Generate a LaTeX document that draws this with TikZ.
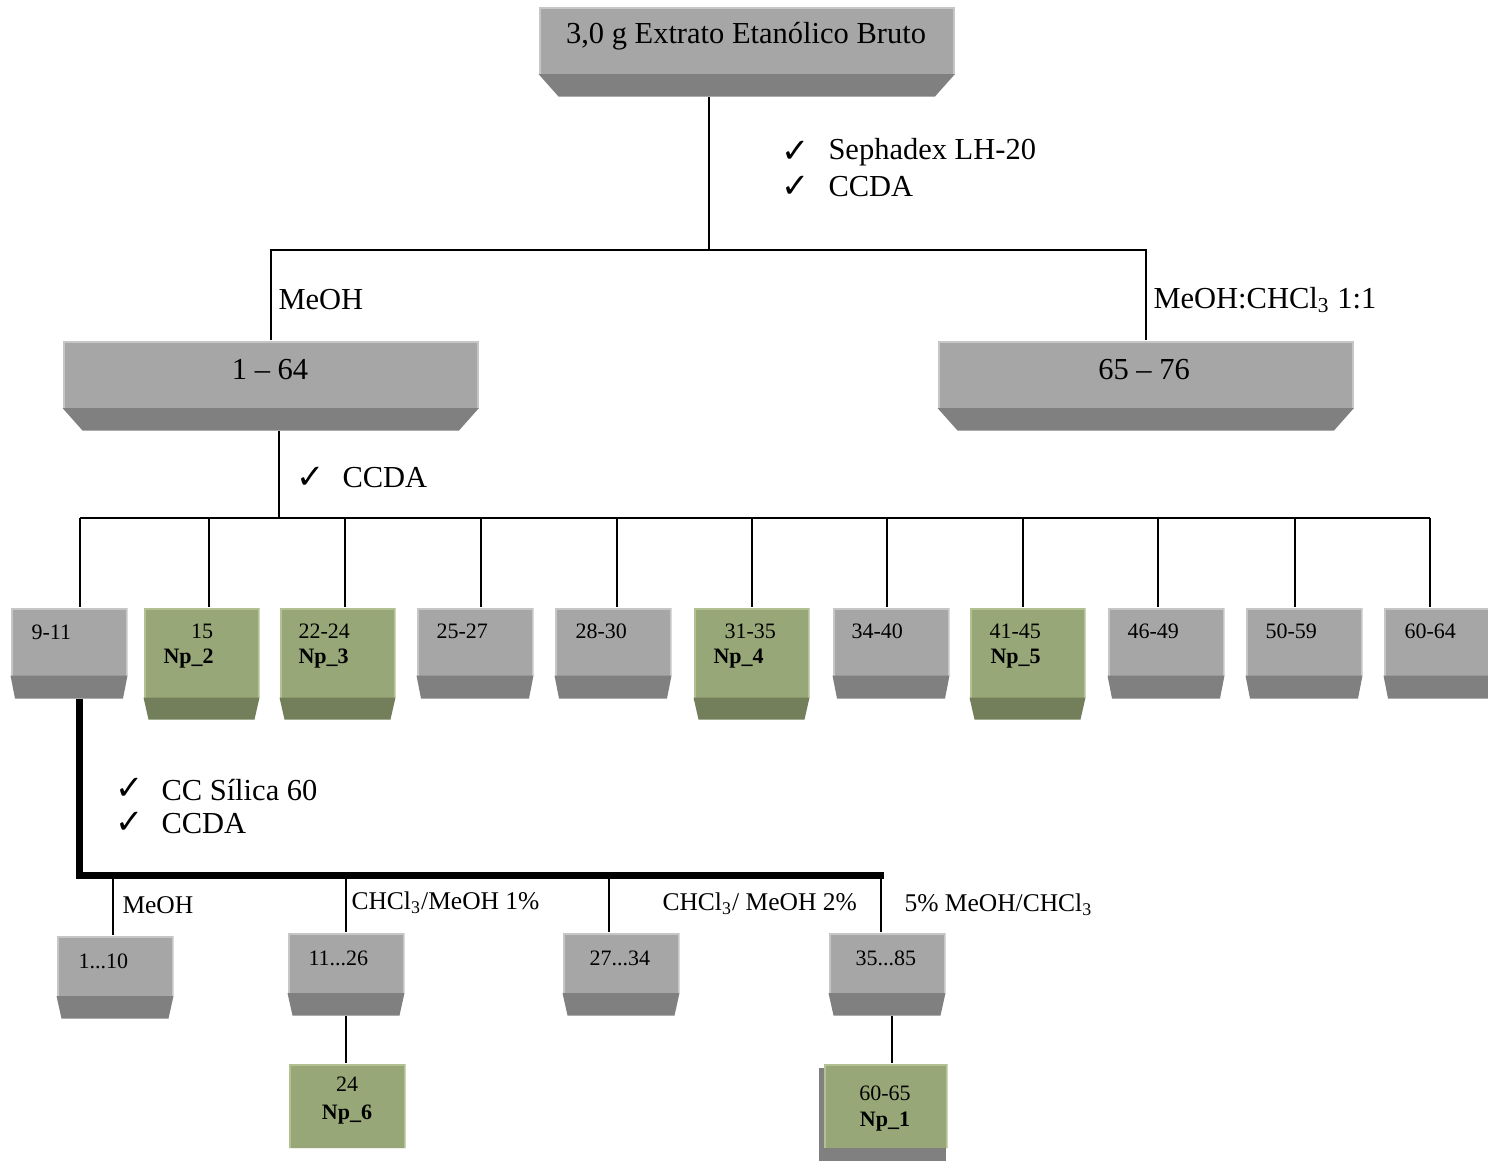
\documentclass[tikz,border=0pt]{standalone}
\usepackage{fontspec}
\setmainfont{Liberation Serif}
\newfontfamily\tickfont{DejaVu Sans}
\usetikzlibrary{backgrounds}

\definecolor{slabgray}{HTML}{A6A6A6}
\definecolor{slabgrayedge}{HTML}{C6C6C6}
\definecolor{slabgrayside}{HTML}{808080}
\definecolor{slabgreen}{HTML}{97A777}
\definecolor{slabgreenedge}{HTML}{B2C092}
\definecolor{slabgreenside}{HTML}{737F5A}

\tikzset{
    slab face/.store in=\slabface, slab face=slabgray,
    slab edge/.store in=\slabedge, slab edge=slabgrayedge,
    slab side/.store in=\slabside, slab side=slabgrayside,
    slab depth/.store in=\slabdepth, slab depth=9pt,
    slab inset/.store in=\slabinset, slab inset=2pt
}

\begin{document}
\begin{tikzpicture}[x=0.4pt, y=-0.4pt,
    % Bevelled box: light face on top, darker front strip below
    slab/.style={
        rectangle, inner sep=0pt, anchor=north west, fill=white,
        path picture={
            \fill[fill=\slabedge] (path picture bounding box.north west)
                rectangle ([yshift=\slabdepth]path picture bounding box.south east);
            \fill[fill=\slabface] ([shift={(0.8pt,-0.8pt)}]path picture bounding box.north west)
                rectangle ([shift={(-0.8pt,\slabdepth)}]path picture bounding box.south east);
            \fill[fill=\slabside] ([yshift=\slabdepth]path picture bounding box.south west)
                -- ([yshift=\slabdepth]path picture bounding box.south east)
                -- ([xshift=-\slabinset]path picture bounding box.south east)
                -- ([xshift=\slabinset]path picture bounding box.south west) -- cycle;
        }
    },
    graybox/.style={slab, slab face=slabgray, slab edge=slabgrayedge, slab side=slabgrayside},
    greenbox/.style={slab, slab face=slabgreen, slab edge=slabgreenedge, slab side=slabgreenside},
    % Box sizes
    bigslab/.style={graybox, minimum width=166.6pt, minimum height=36pt,
        slab depth=9pt, slab inset=8pt},
    rowslab/.style={graybox, minimum width=46.8pt, minimum height=36.4pt,
        slab depth=9.2pt, slab inset=1.8pt},
    rowhit/.style={greenbox, minimum width=46.4pt, minimum height=44.8pt,
        slab depth=8.8pt, slab inset=2pt},
    subslab/.style={graybox, minimum width=46.8pt, minimum height=33.2pt,
        slab depth=9pt, slab inset=2pt},
    hitcard/.style={greenbox, minimum height=33.8pt, slab depth=0pt},
    % Connectors
    link/.style={line width=0.8pt, black},
    heavy/.style={line width=2.8pt, black},
    % Text
    bigtxt/.style={font=\fontsize{12.2}{14}\selectfont, inner sep=0pt},
    midtxt/.style={font=\fontsize{10.2}{12}\selectfont, inner sep=0pt},
    smltxt/.style={font=\fontsize{8.8}{11.2}\selectfont, inner sep=0pt},
    tick/.style={font=\tickfont\fontsize{13.5}{15}\selectfont, inner sep=0pt}
]
\useasboundingbox (0,0) rectangle (1488,1162);
\clip (0,0) rectangle (1488,1162);

% === Crude extract ===
\node[bigslab] (extract) at (538,6) {};
\node[bigtxt] (extracttxt) at (746,36) {3,0 g Extrato Etanólico Bruto};

\node[tick] (tickA) at (796,152) {✓};
\node[bigtxt, anchor=west] (sephadex) at (828,152) {Sephadex LH-20};
\node[tick] (tickB) at (796,187) {✓};
\node[bigtxt, anchor=west] (ccdaA) at (828,187) {CCDA};

% === First split ===
\node[bigslab] (pool1) at (62,340) {};
\node[bigtxt] (pool1txt) at (270,370) {1 -- 64};
\node[bigslab] (pool2) at (937,340) {};
\node[bigtxt] (pool2txt) at (1144,370) {65 -- 76};

\node[bigtxt, anchor=west] (eluA) at (278,300) {MeOH};
\node[bigtxt, anchor=west] (eluB) at (1153,300) {MeOH:CHCl\textsubscript{3} 1:1};

\coordinate (splitA) at (709,250);
\draw[link] (extract.south -| splitA) -- (splitA);
\draw[link] (pool1.north) |- (splitA) -| (pool2.north);

% === Fractions of 1-64 ===
\node[tick] (tickC) at (311,478) {✓};
\node[bigtxt, anchor=west] (ccdaB) at (342,478) {CCDA};

\node[rowslab] (f1) at (10,607) {};
\node[rowhit] (f2) at (143,607) {};
\node[rowhit] (f3) at (279,607) {};
\node[rowslab] (f4) at (416,607) {};
\node[rowslab] (f5) at (554,607) {};
\node[rowhit] (f6) at (693,607) {};
\node[rowslab] (f7) at (832,607) {};
\node[rowhit] (f8) at (969,607) {};
\node[rowslab] (f9) at (1107,607) {};
\node[rowslab] (f10) at (1245,607) {};
\node[rowslab] (f11) at (1383,607) {};

\node[smltxt, anchor=west] (f1a) at (31,632) {9-11};
\node[smltxt] (f2a) at (202,631) {15};
\node[smltxt, anchor=west] (f2b) at (163,659) {\textbf{Np\_2}};
\node[smltxt, anchor=west] (f3a) at (298,631) {22-24};
\node[smltxt, anchor=west] (f3b) at (298,659) {\textbf{Np\_3}};
\node[smltxt, anchor=west] (f4a) at (436,631) {25-27};
\node[smltxt, anchor=west] (f5a) at (575,631) {28-30};
\node[smltxt, anchor=west] (f6a) at (724,631) {31-35};
\node[smltxt, anchor=west] (f6b) at (713,659) {\textbf{Np\_4}};
\node[smltxt, anchor=west] (f7a) at (851,631) {34-40};
\node[smltxt, anchor=west] (f8a) at (989,631) {41-45};
\node[smltxt, anchor=west] (f8b) at (990,659) {\textbf{Np\_5}};
\node[smltxt, anchor=west] (f9a) at (1127,631) {46-49};
\node[smltxt, anchor=west] (f10a) at (1265,631) {50-59};
\node[smltxt, anchor=west] (f11a) at (1404,631) {60-64};

\coordinate (splitB) at (279,518);
\coordinate (t1) at (80,518);
\coordinate (t2) at (209,518);
\coordinate (t3) at (345,518);
\coordinate (t4) at (481,518);
\coordinate (t5) at (617,518);
\coordinate (t6) at (752,518);
\coordinate (t7) at (887,518);
\coordinate (t8) at (1023,518);
\coordinate (t9) at (1158,518);
\coordinate (t10) at (1295,518);
\coordinate (t11) at (1430,518);

\draw[link] (pool1.south -| splitB) -- (splitB);
\draw[link] (t1) -- (t11);
\draw[link] (t1) -- (t1 |- f1.north);
\draw[link] (t2) -- (t2 |- f2.north);
\draw[link] (t3) -- (t3 |- f3.north);
\draw[link] (t4) -- (t4 |- f4.north);
\draw[link] (t5) -- (t5 |- f5.north);
\draw[link] (t6) -- (t6 |- f6.north);
\draw[link] (t7) -- (t7 |- f7.north);
\draw[link] (t8) -- (t8 |- f8.north);
\draw[link] (t9) -- (t9 |- f9.north);
\draw[link] (t10) -- (t10 |- f10.north);
\draw[link] (t11) -- (t11 |- f11.north);

% === Column on 9-11 ===
\node[tick] (tickD) at (130,789) {✓};
\node[bigtxt, anchor=west] (silica) at (161,790) {CC Sílica 60};
\node[tick] (tickE) at (130,823) {✓};
\node[bigtxt, anchor=west] (ccdaC) at (161,824) {CCDA};

\coordinate (bendC) at (79.5,875.5);
\coordinate (busEnd) at (884,875.5);
\draw[heavy] (f1.south -| bendC) -- (bendC) -- (busEnd);

\node[subslab] (s1) at (56,935) {};
\node[subslab] (s2) at (287,932) {};
\node[subslab] (s3) at (562,932) {};
\node[subslab] (s4) at (828,932) {};

\node[smltxt, anchor=west] (s1a) at (78,961) {1...10};
\node[smltxt, anchor=west] (s2a) at (308,958) {11...26};
\node[smltxt, anchor=west] (s3a) at (589,958) {27...34};
\node[smltxt, anchor=west] (s4a) at (855,958) {35...85};

\node[midtxt, anchor=west] (eluC) at (122,905) {MeOH};
\node[midtxt, anchor=west] (eluD) at (351,903) {CHCl\textsubscript{3}/MeOH 1\%};
\node[midtxt, anchor=west] (eluE) at (662,904) {CHCl\textsubscript{3}/ MeOH 2\%};
\node[midtxt, anchor=west] (eluF) at (904,905) {5\% MeOH/CHCl\textsubscript{3}};

\coordinate (d1) at (113,875.5);
\coordinate (d2) at (346,875.5);
\coordinate (d3) at (609,875.5);
\coordinate (d4) at (881,875.5);
\draw[link] (d1) -- (d1 |- s1.north);
\draw[link] (d2) -- (d2 |- s2.north);
\draw[link] (d3) -- (d3 |- s3.north);
\draw[link] (d4) -- (d4 |- s4.north);

% === Isolated compounds ===
\node[hitcard, minimum width=46.8pt] (np6) at (288,1063) {};
\node[smltxt, align=center] (np6txt) at (347,1101) {24\\\textbf{Np\_6}};
\node[hitcard, minimum width=49.6pt] (np1) at (823,1063) {};
\node[smltxt, align=center, font=\fontsize{8.8}{10.4}\selectfont] (np1txt) at (885,1109) {60-65\\\textbf{Np\_1}};
\begin{scope}[on background layer]
    \fill[slabgrayside] ([shift={(-1.6pt,-2pt)}]np1.north west)
        rectangle ([shift={(-0.8pt,-4.8pt)}]np1.south east);
\end{scope}

\coordinate (dropD) at (892,0);
\draw[link] (s2.south) -- (s2.south |- np6.north);
\draw[link] (s4.south -| dropD) -- (np1.north -| dropD);

\end{tikzpicture}
\end{document}
